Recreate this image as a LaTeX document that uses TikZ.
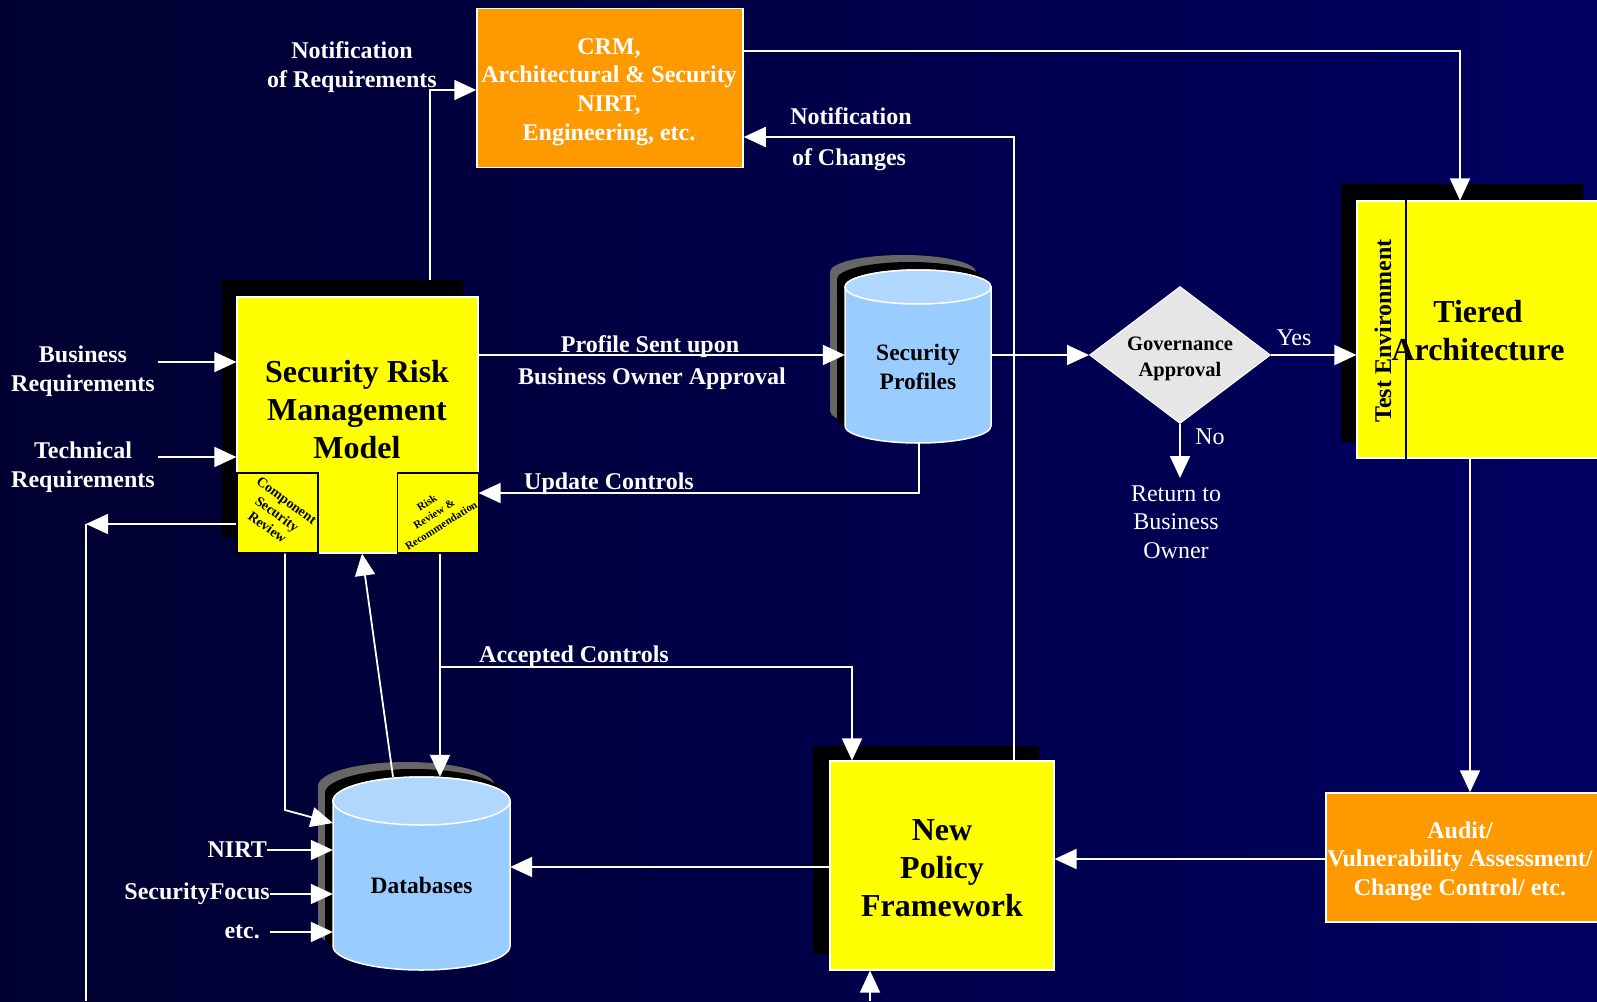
\documentclass[tikz,border=0pt]{standalone}
\usepackage{fontspec}
\setmainfont{Liberation Serif}
\usetikzlibrary{arrows.meta,shapes.geometric}
\definecolor{bgL}{RGB}{0,0,48}
\definecolor{bgR}{RGB}{0,0,96}
\definecolor{ylw}{RGB}{255,255,0}
\definecolor{org}{RGB}{255,153,0}
\definecolor{cylb}{RGB}{153,204,255}
\definecolor{cylt}{RGB}{176,216,255}
\definecolor{shg}{RGB}{102,102,102}
\definecolor{dia}{RGB}{230,230,230}
% L R yt yb rx ry
\newcommand\dbcylinder[6]{%
  \path[fill=shg] (#1-15,#3-15) -- (#1-15,#4-15) arc[start angle=180,end angle=360,x radius=#5pt,y radius=#6pt]
     -- (#2-15,#3-15) arc[start angle=0,end angle=180,x radius=#5pt,y radius=#6pt] -- cycle;
  \path[fill=black] (#1-8,#3-8) -- (#1-8,#4-8) arc[start angle=180,end angle=360,x radius=#5pt,y radius=#6pt]
     -- (#2-8,#3-8) arc[start angle=0,end angle=180,x radius=#5pt,y radius=#6pt] -- cycle;
  \path[fill=cylb,draw=white,line width=1.5pt] (#1,#3) -- (#1,#4) arc[start angle=180,end angle=360,x radius=#5pt,y radius=#6pt]
     -- (#2,#3) arc[start angle=0,end angle=180,x radius=#5pt,y radius=#6pt] -- cycle;
  \path[fill=cylt,draw=white,line width=1.5pt] ({(#1+#2)/2},#3) ellipse[x radius=#5pt,y radius=#6pt];
}
\begin{document}
\begin{tikzpicture}[x=1pt,y=-1pt,
  conn/.style={draw=white,line width=1.8pt},
  arr/.style={conn,-{Triangle[length=22pt,width=20pt]}},
  wlbl/.style={text=white,inner sep=0pt,align=center,font=\fontsize{24}{29}\selectfont\bfseries},
  wreg/.style={text=white,inner sep=0pt,align=center,font=\fontsize{24}{28.5}\selectfont},
  title/.style={text=black,inner sep=0pt,align=center,font=\fontsize{32}{38}\selectfont\bfseries},
  cyltext/.style={text=black,inner sep=0pt,align=center,font=\fontsize{23.5}{28.5}\selectfont\bfseries},
  ybox/.style={fill=ylw,draw=white,line width=1.2pt,inner sep=0pt},
  obox/.style={fill=org,draw=white,line width=1.5pt,inner sep=0pt},
  subbox/.style={fill=ylw,draw=black,line width=1.5pt,inner sep=0pt,minimum width=81pt,minimum height=80pt},
  hold/.style={inner sep=0pt}
]
\useasboundingbox (0,0) rectangle (1597,1001);
\clip (0,0) rectangle (1597,1001);
\shade[left color=bgL,right color=bgR] (0,0) rectangle (1597,1001);

% ---------- Security Risk Management Model ----------
\fill[black] (222,280) rectangle (463,537);
\node[ybox,minimum width=241pt,minimum height=256pt] (srm) at (357.5,425) {};
\node[title] (srmt) at (357,410) {Security Risk\\Management\\Model};
\node[subbox] (csr) at (277.5,513) {};
\node[subbox] (rrr) at (438,513) {};
\node[rotate=-36,inner sep=0pt,align=center,font=\fontsize{14}{16.5}\selectfont\bfseries] (csrt) at (277,514) {Component\\Security\\Review};
\node[rotate=32,inner sep=0pt,align=center,font=\fontsize{11}{13.5}\selectfont\bfseries] (rrrt) at (434,514) {Risk\\Review \&\\Recommendation};

% ---------- CRM box ----------
\node[obox,minimum width=266pt,minimum height=159pt] (crm) at (610,88) {};
\node[wlbl,font=\fontsize{24}{28.7}\selectfont\bfseries] (crmt) at (609,92)
      {CRM,\\Architectural \& Security\\NIRT,\\Engineering, etc.};

% ---------- Security Profiles ----------
\dbcylinder{845}{991}{287}{426}{73}{17}
\node[hold,minimum width=146pt,minimum height=173pt] (sp) at (918,356.5) {};
\node[cyltext] (spt) at (918,367) {Security\\Profiles};

% ---------- Databases ----------
\dbcylinder{333}{510}{801}{946}{88.5}{24}
\node[hold,minimum width=177pt,minimum height=193pt] (dbb) at (421.5,873.5) {};
\node[cyltext] (dbt) at (421.5,885) {Databases};

% ---------- Governance ----------
\node[diamond,aspect=1.32,fill=dia,draw=white,line width=1pt,inner sep=0pt,
      minimum width=181pt,minimum height=137pt] (gov) at (1180,355) {};
\node[inner sep=0pt,align=center,font=\fontsize{20.5}{26}\selectfont\bfseries] (govt) at (1180,359) {Governance\\Approval};

% ---------- Tiered Architecture ----------
\fill[black] (1341,184) rectangle (1583,442);
\node[ybox,minimum width=263pt,minimum height=257pt] (ta) at (1488.5,329.5) {};
\draw[black,line width=1.5pt] (ta.north -| 1406,0) -- (ta.south -| 1406,0);
\node[rotate=90,inner sep=0pt,font=\fontsize{24}{29}\selectfont\bfseries] (tet) at (1383,331) {Test Environment};
\node[title] (tat) at (1478,331) {Tiered\\Architecture};

% ---------- Audit ----------
\node[obox,minimum width=294pt,minimum height=129pt] (aud) at (1473,857.5) {};
\node[wlbl,font=\fontsize{24}{28.5}\selectfont\bfseries] (audt) at (1460,861) {Audit/\\Vulnerability Assessment/\\Change Control/ etc.};

% ---------- New Policy Framework ----------
\fill[black] (813,746) rectangle (1039,954);
\node[ybox,minimum width=224pt,minimum height=209pt] (npf) at (942,865.5) {};
\node[title] (npft) at (942,868) {New\\Policy\\Framework};

% ---------- labels ----------
\node[wlbl] (nreq) at (352,67.5) {Notification\\of Requirements};
\node[wlbl] (nch1) at (851,116) {Notification};
\node[wlbl] (nch2) at (849,160) {of Changes};
\node[wlbl] (ps1) at (650,347) {Profile Sent upon};
\node[wlbl] (ps2) at (652,379) {Business Owner Approval};
\node[wlbl] (uc) at (609,484) {Update Controls};
\node[wlbl] (ac) at (574,657) {Accepted Controls};
\node[wlbl] (brq) at (83,371) {Business\\Requirements};
\node[wlbl] (trq) at (83,467.5) {Technical\\Requirements};
\node[wreg] (yes) at (1294,338) {Yes};
\node[wreg] (no) at (1210,437) {No};
\node[wreg] (ret) at (1176,522) {Return to\\Business\\Owner};
\node[wlbl,anchor=east] (nirt) at (267,850) {NIRT};
\node[wlbl,anchor=east] (sf) at (270,894) {SecurityFocus};
\node[wlbl,anchor=east] (etc) at (260,932) {etc.};

% ---------- coordinates ----------
\coordinate (b1) at (158,362);
\coordinate (t1) at (158,457);
\coordinate (lc) at (86,524);
\coordinate (n1) at (430,280);
\coordinate (acb) at (440,667);
\coordinate (bt) at (870,1001);

% ---------- connectors ----------
\draw[arr] (b1) -- (b1 -| srm.west);
\draw[arr] (t1) -- (t1 -| srm.west);
\draw[arr] (srm.west |- lc) -- (lc);
\draw[conn] (lc) -- (lc |- bt);
\draw[arr] (n1) |- (crm.west |- 0,90);
\draw[arr] (crm.east |- 0,51) -| (ta.north -| 1460,0);
\draw[arr] (srm.east |- 0,355) -- (sp.west |- 0,355);
\draw[arr] (sp.east |- gov.west) -- (gov.west);
\draw[arr] (gov.east) -- (gov.east -| ta.west);
\draw[arr] (gov.south) -- ++(0,54);
\draw[arr] (sp.south -| 919,0) |- (srm.east |- 0,493);
\draw[arr] (ta.south -| 1470,0) -- (aud.north -| 1470,0);
\draw[arr] (aud.west |- 0,859) -- (npf.east |- 0,859);
\draw[arr] (npf.west |- 0,867) -- (dbb.east |- 0,867);
\draw[arr] (npf.north -| 1014,0) |- (crm.east |- 0,137);
\draw[arr] (srm.south -| 440,0) -- (dbb.north -| 440,0);
\draw[arr] (acb) -| (npf.north -| 852,0);
\draw[arr] (dbb.north -| 393,0) -- (srm.south -| 362,0);
\draw[arr] (srm.south -| 285,0) -- (285,810) -- (dbb.west |- 0,823);
\draw[arr] (nirt.east) -- (nirt.east -| dbb.west);
\draw[arr] (sf.east) -- (sf.east -| dbb.west);
\draw[arr] ([xshift=10pt]etc.east) -- (etc.east -| dbb.west);
\draw[arr] (bt) -- (bt |- npf.south);
\end{tikzpicture}
\end{document}
